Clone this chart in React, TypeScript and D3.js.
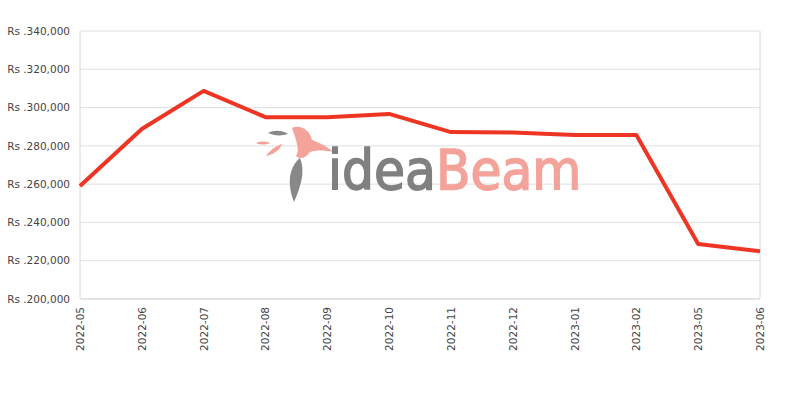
import React from "react";
import * as d3 from "d3";

const categories = ["2022-05","2022-06","2022-07","2022-08","2022-09","2022-10","2022-11","2022-12","2023-01","2023-02","2023-05","2023-06"];
const prices = [259000, 288800, 308700, 295000, 295000, 296700, 287200, 287000, 285700, 285700, 228700, 225000];
const yTicks = [200000, 220000, 240000, 260000, 280000, 300000, 320000, 340000];

const W = 800, H = 400;
const m = { left: 80, right: 760, top: 31, bottom: 299 };

export default function App() {
  const x = d3.scalePoint<string>().domain(categories).range([m.left, m.right]);
  const y = d3.scaleLinear().domain([200000, 340000]).range([m.bottom, m.top]);
  const line = d3.line<number>().x((_, i) => x(categories[i])!).y(d => y(d));
  const fmt = (v: number) => "Rs ." + d3.format(",")(v);
  const font = "DejaVu Sans, sans-serif";
  return (
    <svg width={W} height={H} style={{ position: "absolute", left: 0, top: 0, background: "#fff" }}>
      {yTicks.map(t => (
        <g key={t}>
          <line x1={m.left} x2={m.right} y1={y(t)} y2={y(t)} stroke="#e0e0e0" strokeWidth={1} />
          <text x={70} y={y(t)} dy="0.35em" textAnchor="end" fontFamily={font} fontSize={10.5} fill="#444">{fmt(t)}</text>
        </g>
      ))}
      <line x1={m.left} x2={m.left} y1={m.top} y2={m.bottom} stroke="#d8d8d8" />
      <line x1={m.right} x2={m.right} y1={m.top} y2={m.bottom} stroke="#d8d8d8" />
      <line x1={m.left} x2={m.right} y1={m.bottom} y2={m.bottom} stroke="#d8d8d8" />
      {categories.map(c => (
        <text key={c} transform={`translate(${x(c)! + 4},307) rotate(-90)`} textAnchor="end" fontFamily={font} fontSize={10.5} fill="#444">{c}</text>
      ))}
      {/* watermark */}
      <g>
        <path d="M292,128 C300,124 310,130 312,140 C318,142 326,146 334,152 C324,150 316,150 310,152 C306,158 300,160 296,156 C300,150 296,140 292,128 Z" fill="#f4a39b" />
        <path d="M268,133 C274,130 282,130 288,134 C282,136 274,136 268,133 Z" fill="#888" />
        <path d="M256,143 C260,141 266,141 270,143 C266,145 260,145 256,143 Z" fill="#f4a39b" />
        <path d="M266,156 C270,150 276,146 282,144 C280,150 274,154 266,156 Z" fill="#f4a39b" />
        <path d="M300,158 C290,166 286,182 294,202 C300,188 306,172 300,158 Z" fill="#888" />
        <text x={328} y={189} fontFamily="DejaVu Sans Condensed, DejaVu Sans, sans-serif" fontStretch="condensed" fontSize={56} letterSpacing={0}>
          <tspan fill="#808080" stroke="#808080" strokeWidth={1.5}>idea</tspan><tspan fill="#f4a39b" stroke="#f4a39b" strokeWidth={1.5}>Beam</tspan>
        </text>
      </g>
      <path d={line(prices)!} fill="none" stroke="#ee3524" strokeWidth={4} strokeLinejoin="round" />
    </svg>
  );
}
